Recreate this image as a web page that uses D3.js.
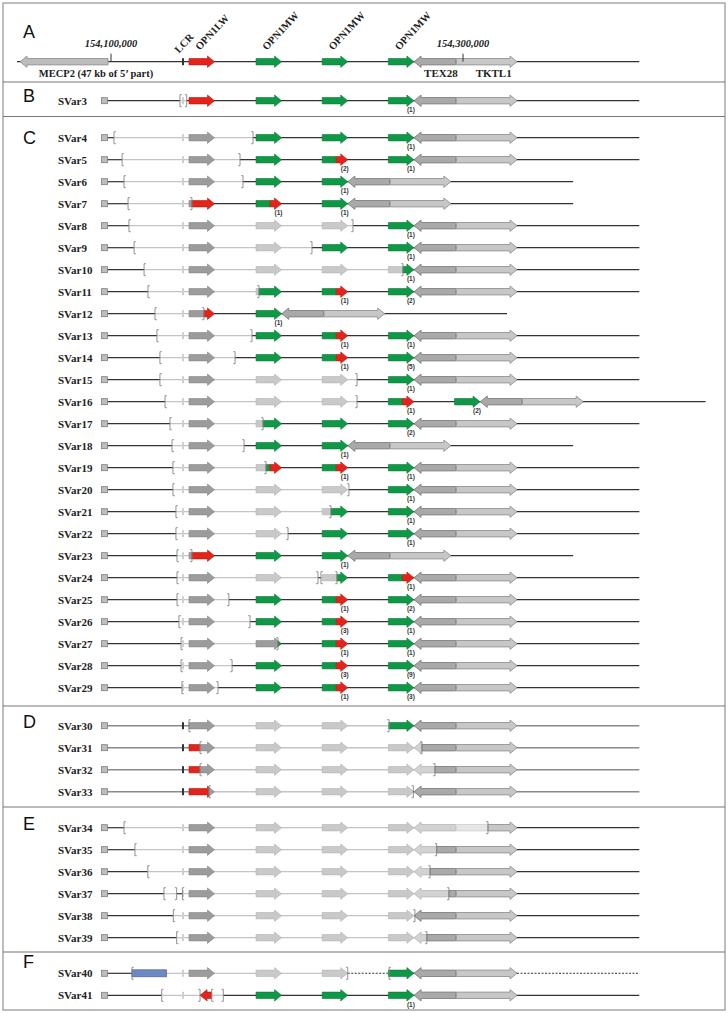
<!DOCTYPE html>
<html><head><meta charset="utf-8">
<script src="https://cdn.jsdelivr.net/npm/d3@7/dist/d3.min.js"></script>
<style>body{margin:0;background:#fff}</style>
</head><body><svg id="c" width="728" height="1013"></svg>
<script>
// ---------------- DATA (genomic positions in kb relative to chrX:154,100,000) ----------------
const coordTicks = [0, 200];
const coordTickLabels = ["154,100,000", "154,300,000"];
const mecp2Span = [-51.7, -1.7];
const refLineStart = -53.4;
const lcrPos = 40.9;
const slotStarts = [44.3, 82.4, 120.0, 157.6, 195.2];
const geneLen = 14.5;
const chimeraJunction = 8.0;
const tex28Len = 23.7, tktl1Len = 34.5, tailLen = 69.5, rowStartKb = -3.7;
const refGeneLabels = ["LCR", "OPN1LW", "OPN1MW", "OPN1MW", "OPN1MW"];
const refCopies = "LMMM";
const flankLabels = ["MECP2 (47 kb of 5\u2019 part)", "TEX28", "TKTL1"];
const panelNames = ["A", "B", "C", "D", "E", "F"];

const rowNames = ["SVar3","SVar4","SVar5","SVar6","SVar7","SVar8","SVar9","SVar10","SVar11","SVar12",
  "SVar13","SVar14","SVar15","SVar16","SVar17","SVar18","SVar19","SVar20","SVar21","SVar22","SVar23",
  "SVar24","SVar25","SVar26","SVar27","SVar28","SVar29","SVar30","SVar31","SVar32","SVar33","SVar34",
  "SVar35","SVar36","SVar37","SVar38","SVar39","SVar40","SVar41"];
const rowPanels = ["B","C","C","C","C","C","C","C","C","C","C","C","C","C","C","C","C","C","C","C","C",
  "C","C","C","C","C","C","D","D","D","D","E","E","E","E","E","E","F","F"];
// L = OPN1LW (red), M = OPN1MW (green), C = chimeric, G = green copy with LW-like deleted part, - = absent
const rowCopies = ["LMMM","LMMM","LMCM","LMM","LCM","LMMM","LMMM","LMMM","LMCM","LM",
  "LMCM","LMCM","LMMM","LMMCM","LMMM","LMM","LCCM","LMMM","LMMM","LMMM","LMM",
  "LMMC","LMCM","LMCM","LGCM","LMCM","LMCM","LMMM","LMMM","LMMM","LMMM","LMMM",
  "LMMM","LMMM","LMMM","LMMM","LMMM","LMMM","-MMM"];
const rowCounts = [[0,0,0,1],[0,0,0,1],[0,0,2,1],[0,0,1],[0,1,1],[0,0,0,1],[0,0,0,1],[0,0,0,1],[0,0,1,2],[0,1],
  [0,0,1,1],[0,0,1,5],[0,0,0,1],[0,0,0,1,2],[0,0,0,2],[0,0,1],[0,0,1,1],[0,0,0,1],[0,0,0,1],[0,0,0,1],[0,0,1],
  [0,0,0,1],[0,0,1,2],[0,0,3,1],[0,0,1,1],[0,0,3,9],[0,0,1,3],[],[],[],[],[],
  [],[],[],[],[],[],[0,0,0,1]];
const rowDeletions = [[[39.2,43.0]],[[1.7,80.7]],[[6.3,73.3]],[[7.4,75.0]],[[9.7,46.0]],[[10.2,137.5]],
  [[13.1,114.2]],[[18.8,165.9]],[[21.0,84.1]],[[25.0,52.8]],[[26.1,80.1]],[[27.8,70.5]],[[27.8,139.8]],
  [[30.7,139.8]],[[33.5,86.4]],[[34.7,75.6]],[[35.2,88.1]],[[35.2,135.2]],[[36.9,125.0]],[[36.9,100.6]],
  [[37.5,46.0]],[[37.5,117.6],[119.3,128.4]],[[37.5,67.0]],[[38.6,79.0]],[[39.8,94.9]],[[39.8,68.8]],
  [[40.3,60.8]],[[44.3,158.0]],[[50.6,176.7]],[[50.6,184.1]],[[55.7,171.8]],[[7.4,214.2]],
  [[13.6,185.0]],[[20.9,181.3]],[[30.1,37.3],[40.6,192.0]],[[35.4,172.7]],[[37.3,179.5]],
  [[11.9,134.5]],[[28.8,50.6],[57.2,63.8]]];
const insertions = [{row: "SVar40", start: 11.9, end: 31.6}];
const unknownSegments = [{row: "SVar40", start: 134.5, end: 158.0}, {row: "SVar40", start: 230.7, end: 300.2}];
const extraBrackets = [{row: "SVar40", pos: 158.0, side: "open"}];
const invertedGenes = [{row: "SVar41", start: 50.6, end: 57.2, type: "L"}];

// ---------------- STYLE / LAYOUT ----------------
const COL = {
  L: "#e2241b", Ls: "#b51a12", M: "#0f9947", Ms: "#0a7a38",
  delDark: "#9c9c9c", delDarkS: "#858585", delLight: "#c9c9c9", delLightS: "#b3b3b3",
  tex: "#a9a9a9", texS: "#808080", tkt: "#c7c7c7", tktS: "#949494",
  texDel: "#d2d2d2", texDelS: "#bcbcbc", tktDel: "#e6e6e6", tktDelS: "#d3d3d3",
  line: "#333", lineDel: "#c4c4c4", lineD: "#8a8a8a", bracket: "#858585"
};
const serif = "'Liberation Serif','DejaVu Serif',serif";
const sans = "'Liberation Sans',Arial,sans-serif";
const svg = d3.select("#c");
const x = d3.scaleLinear().domain([0, 200]).range([111, 463]);
const panelFirstRow = {B: 100.7, C: 137.7, D: 725.7, E: 827.7, F: 973.3};
const panelLetterY = {A: 38, B: 102, C: 144, D: 728, E: 830, F: 968};
const separators = [82, 116.5, 706, 807, 952];
const rowStep = 22;
const BH = 3.2, HH = 5.7, HL = 7;

// frame
svg.append("rect").attr("x", 3).attr("y", 3).attr("width", 722).attr("height", 1007)
  .attr("fill", "none").attr("stroke", "#9a9a9a").attr("stroke-width", 1.3);
separators.forEach(s => svg.append("line").attr("x1", 3).attr("x2", 725).attr("y1", s).attr("y2", s)
  .attr("stroke", "#777").attr("stroke-width", 1.2));
panelNames.forEach(p => svg.append("text").attr("x", 23).attr("y", panelLetterY[p]).text(p)
  .attr("font-family", sans).attr("font-size", 18).attr("fill", "#111"));

function arrowPath(a, b, dir, s, e, y) {
  const hf = xx => { const u = dir > 0 ? b - xx : xx - a; return u >= HL ? BH : HH * Math.max(u, 0) / HL; };
  const neck = dir > 0 ? b - HL : a + HL;
  const eps = 0.01;
  const top = [[s, -hf(s + eps)]];
  if (neck > s + eps && neck < e - eps) {
    if (dir > 0) { top.push([neck, -BH], [neck, -HH]); } else { top.push([neck, -HH], [neck, -BH]); }
  }
  top.push([e, -hf(e - eps)]);
  const bot = top.slice().reverse().map(p => [p[0], -p[1]]);
  return "M" + top.concat(bot).map(p => p[0].toFixed(2) + "," + (y + p[1]).toFixed(2)).join("L") + "Z";
}
function inAny(v, ints) { return ints.some(d => v > d[0] && v < d[1]); }

function drawGene(g, start, end, dir, y, dels, colorFn, breaks, sw) {
  const a = x(start), b = x(end);
  let cuts = [start, end].concat(breaks || []);
  dels.forEach(d => { d.forEach(v => { if (v > start && v < end) cuts.push(v); }); });
  cuts = Array.from(new Set(cuts)).sort((p, q) => p - q);
  for (let i = 0; i < cuts.length - 1; i++) {
    const mid = (cuts[i] + cuts[i + 1]) / 2;
    const c = colorFn(mid, inAny(mid, dels));
    g.append("path").attr("d", arrowPath(a, b, dir, x(cuts[i]), x(cuts[i + 1]), y))
      .attr("fill", c[0]).attr("stroke", c[1]).attr("stroke-width", sw || 0.6);
  }
}
function copyColor(code, start) {
  return (mid, del) => {
    if (del) return (code === "L" || code === "G") ? [COL.delDark, COL.delDarkS] : [COL.delLight, COL.delLightS];
    if (code === "L") return [COL.L, COL.Ls];
    if (code === "C" && mid > start + chimeraJunction) return [COL.L, COL.Ls];
    return [COL.M, COL.Ms];
  };
}
function bracket(g, pos, side, y) {
  const X = x(pos), d = side === "open" ? 1.8 : -1.8;
  g.append("path").attr("d", `M${X + d},${y - 6}H${X}V${y + 6}H${X + d}`)
    .attr("fill", "none").attr("stroke", COL.bracket).attr("stroke-width", 0.9);
}

function drawTrack(g, y, opts) {
  const copies = opts.copies, dels = opts.dels || [];
  const lastIdx = copies.length - 1;
  const lastEnd = slotStarts[lastIdx] + geneLen;
  const tex = [lastEnd + 0.1, lastEnd + 0.1 + tex28Len];
  const tkt = [tex[1] + 0.3, tex[1] + 0.3 + tktl1Len];
  const rowEnd = tkt[1] + tailLen;
  const lineStart = opts.lineStart;
  const unk = opts.unknown || [];
  let cuts = [lineStart, rowEnd];
  dels.concat(unk.map(u => [u.start, u.end])).forEach(d => d.forEach(v => { if (v > lineStart && v < rowEnd) cuts.push(v); }));
  cuts = Array.from(new Set(cuts)).sort((p, q) => p - q);
  for (let i = 0; i < cuts.length - 1; i++) {
    const mid = (cuts[i] + cuts[i + 1]) / 2;
    const ln = g.append("line").attr("x1", x(cuts[i])).attr("x2", x(cuts[i + 1])).attr("y1", y).attr("y2", y);
    if (unk.some(u => mid > u.start && mid < u.end)) ln.attr("stroke", "#333").attr("stroke-width", 1.1).attr("stroke-dasharray", "2,1.5");
    else if (inAny(mid, dels)) ln.attr("stroke", COL.lineDel).attr("stroke-width", opts.delWidth);
    else ln.attr("stroke", opts.lineColor).attr("stroke-width", opts.lineWidth);
  }
  const lcrDel = inAny(lcrPos, dels);
  g.append("rect").attr("x", x(lcrPos) - 1).attr("y", y - 3.5).attr("width", 2).attr("height", 7)
    .attr("fill", lcrDel ? "#cfcfcf" : "#333");
  copies.split("").forEach((code, i) => {
    if (code === "-") return;
    const s = slotStarts[i];
    drawGene(g, s, s + geneLen, 1, y, dels, copyColor(code, s), code === "C" ? [s + chimeraJunction] : []);
    const n = (opts.counts || [])[i];
    if (n) g.append("text").attr("x", x(s + geneLen) - 3).attr("y", y + 11.5).attr("text-anchor", "middle")
      .attr("font-family", sans).attr("font-weight", "bold").attr("font-size", 6.5).attr("fill", "#333").text(`(${n})`);
  });
  (opts.inverted || []).forEach(v => drawGene(g, v.start, v.end, -1, y, [], copyColor(v.type, v.start)));
  drawGene(g, tex[0], tex[1], -1, y, dels, (m, d) => d ? [COL.texDel, COL.texDelS] : [COL.tex, COL.texS], [], 0.9);
  drawGene(g, tkt[0], tkt[1], 1, y, dels, (m, d) => d ? [COL.tktDel, COL.tktDelS] : [COL.tkt, COL.tktS], [], 0.9);
  (opts.insertions || []).forEach(ins => g.append("rect").attr("x", x(ins.start)).attr("y", y - 3.5)
    .attr("width", x(ins.end) - x(ins.start)).attr("height", 7).attr("fill", "#6d89c4").attr("stroke", "#4d6296").attr("stroke-width", 0.7));
  dels.forEach(d => { bracket(g, d[0], "open", y); bracket(g, d[1], "close", y); });
  (opts.extraBrackets || []).forEach(b => bracket(g, b.pos, b.side, y));
  return {tex, tkt, rowEnd};
}

// ---------------- Panel A ----------------
const gA = svg.append("g");
const yA = 61.7;
const refInfo = drawTrack(gA, yA, {copies: refCopies, dels: [], lineStart: refLineStart, lineColor: "#333", lineWidth: 1.2, delWidth: 1.2});
gA.append("path").attr("d", arrowPath(x(mecp2Span[0]), x(mecp2Span[1]), -1, x(mecp2Span[0]), x(mecp2Span[1]), yA))
  .attr("fill", "#bdbdbd").attr("stroke", "#8a8a8a").attr("stroke-width", 0.8);
coordTicks.forEach((t, i) => {
  gA.append("line").attr("x1", x(t)).attr("x2", x(t)).attr("y1", yA - 8).attr("y2", yA).attr("stroke", "#333").attr("stroke-width", 1);
  gA.append("text").attr("x", x(t)).attr("y", 47).attr("text-anchor", "middle").attr("font-family", serif)
    .attr("font-style", "italic").attr("font-weight", "bold").attr("font-size", 10.5).attr("fill", "#222").text(coordTickLabels[i]);
});
const labelAnchors = [lcrPos].concat(slotStarts.slice(0, 4).map(s => s + geneLen / 2));
refGeneLabels.forEach((lab, i) => {
  const lx = i === 0 ? x(labelAnchors[i]) - 4 : x(labelAnchors[i]) - 2;
  const ly = i === 0 ? yA - 8 : yA - 11;
  gA.append("text").attr("transform", `translate(${lx},${ly}) rotate(-47)`).attr("font-family", serif)
    .attr("font-weight", "bold").attr("font-size", 10.5).attr("fill", "#222").text(lab);
});
gA.append("text").attr("x", x((mecp2Span[0] + mecp2Span[1]) / 2) + 32).attr("y", 77).attr("text-anchor", "middle")
  .attr("font-family", serif).attr("font-weight", "bold").attr("font-size", 10.5).attr("fill", "#222").text(flankLabels[0]);
gA.append("text").attr("x", x((refInfo.tex[0] + refInfo.tex[1]) / 2) + 6).attr("y", 77).attr("text-anchor", "middle")
  .attr("font-family", serif).attr("font-weight", "bold").attr("font-size", 11).attr("fill", "#222").text(flankLabels[1]);
gA.append("text").attr("x", x((refInfo.tkt[0] + refInfo.tkt[1]) / 2) + 7).attr("y", 77).attr("text-anchor", "middle")
  .attr("font-family", serif).attr("font-weight", "bold").attr("font-size", 11).attr("fill", "#222").text(flankLabels[2]);

// ---------------- Rows ----------------
const panelCounter = {};
rowNames.forEach((name, i) => {
  const p = rowPanels[i];
  panelCounter[p] = (panelCounter[p] || 0);
  const y = panelFirstRow[p] + panelCounter[p] * rowStep;
  panelCounter[p]++;
  const g = svg.append("g");
  const isD = p === "D";
  drawTrack(g, y, {
    copies: rowCopies[i], dels: rowDeletions[i], counts: rowCounts[i], lineStart: rowStartKb,
    lineColor: isD ? COL.lineD : COL.line, lineWidth: isD ? 1.6 : 1.2, delWidth: isD ? 1.6 : 1.2,
    unknown: unknownSegments.filter(u => u.row === name),
    insertions: insertions.filter(u => u.row === name),
    extraBrackets: extraBrackets.filter(u => u.row === name),
    inverted: invertedGenes.filter(u => u.row === name)
  });
  g.append("rect").attr("x", x(rowStartKb) - 3).attr("y", y - 3).attr("width", 6).attr("height", 6)
    .attr("fill", "#bdbdbd").attr("stroke", "#7f7f7f").attr("stroke-width", 0.8);
  g.append("text").attr("x", 58).attr("y", y + 4).attr("font-family", serif).attr("font-weight", "bold")
    .attr("font-size", 11).attr("fill", "#222").text(name);
});
</script></body></html>
